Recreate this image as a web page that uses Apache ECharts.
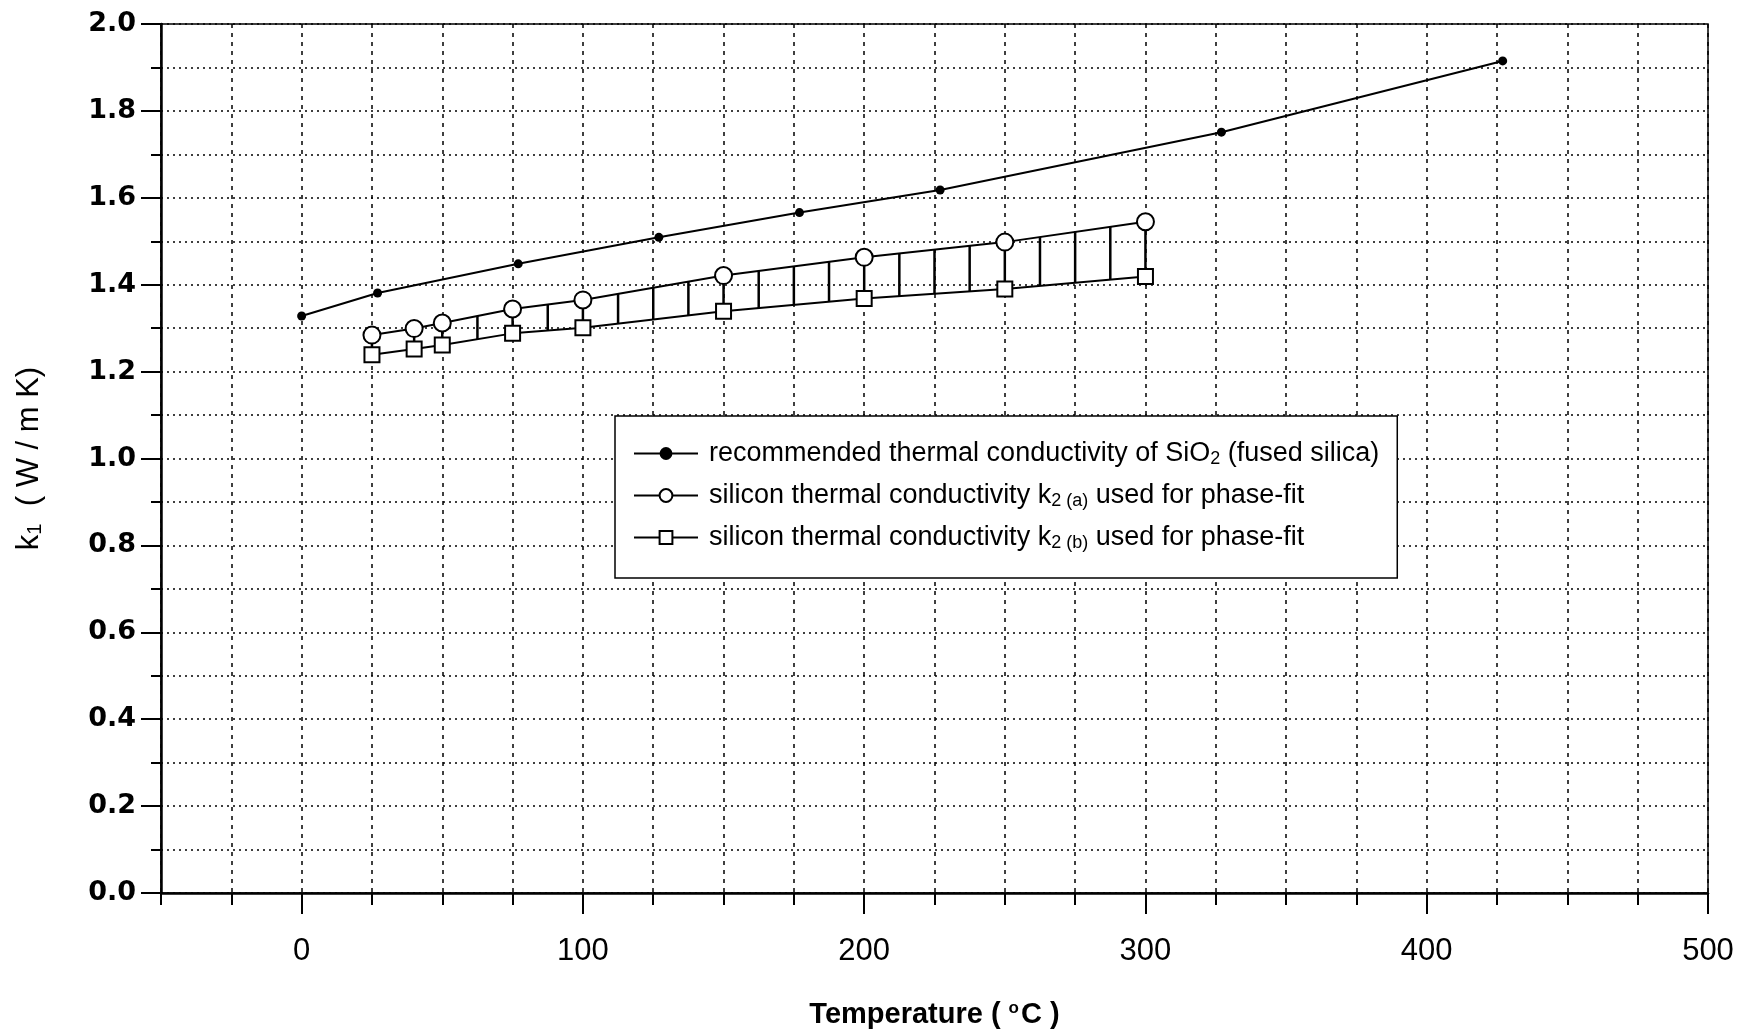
<!DOCTYPE html>
<html>
<head>
<meta charset="utf-8">
<script src="https://cdn.jsdelivr.net/npm/echarts@6/dist/echarts.min.js"></script>
<style>
html,body{margin:0;padding:0;background:#fff;}
#chart{width:1743px;height:1034px;}
</style>
</head>
<body>
<div id="chart"></div>
<script>
// ---- data ----
const sio2T = [0, 27, 77, 127, 177, 227, 327, 427];
const sio2K = [1.328, 1.381, 1.448, 1.509, 1.566, 1.618, 1.751, 1.915];
const siT = [25, 40, 50, 75, 100, 150, 200, 250, 300];
const k2a = [1.284, 1.299, 1.312, 1.344, 1.365, 1.421, 1.463, 1.498, 1.545];
const k2b = [1.239, 1.252, 1.261, 1.288, 1.301, 1.339, 1.368, 1.390, 1.419];
// positions of the vertical hatch strokes between k2(a) and k2(b)
const hatchT = [25, 40, 50, 62.5, 75, 87.5, 100, 112.5, 125, 137.5, 150, 162.5, 175, 187.5, 200, 212.5, 225, 237.5, 250, 262.5, 275, 287.5, 300];
const xLongTicks = [0, 100, 200, 300, 400, 500];
const seriesNames = [
  'recommended thermal conductivity of SiO2 (fused silica)',
  'silicon thermal conductivity k2 (a) used for phase-fit',
  'silicon thermal conductivity k2 (b) used for phase-fit'
];
const legendRich = {
  [seriesNames[0]]: '{n|recommended thermal conductivity of SiO}{s|2}{n| (fused silica)}',
  [seriesNames[1]]: '{n|silicon thermal conductivity k}{s|2 (a)}{n| used for phase-fit}',
  [seriesNames[2]]: '{n|silicon thermal conductivity k}{s|2 (b)}{n| used for phase-fit}'
};

function onLine(xs, ys, t) {
  for (let i = 0; i < xs.length - 1; i++) {
    if (t >= xs[i] && t <= xs[i + 1]) {
      const f = (t - xs[i]) / (xs[i + 1] - xs[i]);
      return ys[i] + f * (ys[i + 1] - ys[i]);
    }
  }
  return ys[ys.length - 1];
}

const FONT = "'Liberation Sans', Arial, sans-serif";
const chart = echarts.init(document.getElementById('chart'), null, {renderer: 'canvas'});
const option = {
  backgroundColor: '#fff',
  animation: false,
  grid: {left: 161, right: 35, top: 24, bottom: 140, show: true, borderColor: '#000', borderWidth: 1.5, backgroundColor: 'transparent'},
  legend: {
    data: seriesNames,
    orient: 'vertical',
    left: 615, top: 416,
    backgroundColor: '#fff',
    borderColor: '#000', borderWidth: 1.5, borderRadius: 0,
    padding: [24, 18, 26, 18],
    itemGap: 14,
    itemWidth: 64, itemHeight: 16,
    formatter: n => legendRich[n],
    textStyle: {
      color: '#000',
      padding: [0, 0, 0, 6],
      rich: {
        n: {fontFamily: FONT, fontSize: 27, color: '#000'},
        s: {fontFamily: FONT, fontSize: 18, color: '#000', verticalAlign: 'bottom', padding: [11, 0, 0, 0]}
      }
    }
  },
  xAxis: [{
    type: 'value', min: -50, max: 500, interval: 25,
    name: '{t|Temperature ( }{o|o}{t|C )}',
    nameLocation: 'middle', nameGap: 107,
    nameTextStyle: {rich: {
      t: {fontFamily: FONT, fontSize: 29, fontWeight: 'bold', color: '#000'},
      o: {fontFamily: FONT, fontSize: 17, fontWeight: 'bold', color: '#000', verticalAlign: 'top', padding: [0, 2, 12, 0]}
    }},
    axisLine: {show: true, onZero: false, lineStyle: {color: '#000', width: 2.5}},
    axisTick: {show: true, length: 12, lineStyle: {color: '#000', width: 2}},
    axisLabel: {margin: 43, fontFamily: FONT, fontSize: 31, color: '#000',
      formatter: v => (Math.round(v) % 100 === 0 && v >= 0) ? String(Math.round(v)) : ''},
    splitLine: {show: true, lineStyle: {color: '#000', width: 1.5, type: [4, 5]}}
  }, {
    type: 'value', min: -50, max: 500, position: 'bottom',
    axisLine: {show: false, onZero: false},
    axisTick: {show: true, customValues: xLongTicks, length: 21, lineStyle: {color: '#000', width: 2}},
    axisLabel: {show: false},
    splitLine: {show: false}
  }],
  yAxis: {
    type: 'value', min: 0, max: 2, interval: 0.2,
    name: '{k|k}{s|1}{k|  ( W / m K)}',
    nameLocation: 'middle', nameGap: 116,
    nameTextStyle: {rich: {
      k: {fontFamily: FONT, fontSize: 31, color: '#000'},
      s: {fontFamily: FONT, fontSize: 20, color: '#000', verticalAlign: 'bottom', padding: [10, 0, 0, 0]}
    }},
    axisLine: {show: true, onZero: false, lineStyle: {color: '#000', width: 2.5}},
    axisTick: {show: true, length: 20, lineStyle: {color: '#000', width: 2}},
    minorTick: {show: true, splitNumber: 2, length: 10, lineStyle: {color: '#000', width: 2}},
    axisLabel: {margin: 25, fontFamily: "'DejaVu Sans', sans-serif", fontWeight: 'bold', fontSize: 27, color: '#000',
      formatter: v => v.toFixed(1)},
    splitLine: {show: true, lineStyle: {color: '#000', width: 1.5, type: [2, 4]}},
    minorSplitLine: {show: true, lineStyle: {color: '#000', width: 1.5, type: [2, 4]}}
  },
  series: [
    {
      type: 'custom', z: 1, silent: true,
      data: hatchT.map(t => [t]),
      encode: {x: 0},
      renderItem: (params, api) => {
        const t = api.value(0);
        const p1 = api.coord([t, onLine(siT, k2a, t)]);
        const p2 = api.coord([t, onLine(siT, k2b, t)]);
        return {type: 'line', shape: {x1: p1[0], y1: p1[1], x2: p2[0], y2: p2[1]},
          style: {stroke: '#000', lineWidth: 2.5}};
      }
    },
    {
      name: seriesNames[0], type: 'line', z: 3,
      data: sio2T.map((t, i) => [t, sio2K[i]]),
      symbol: 'circle', symbolSize: 9,
      lineStyle: {color: '#000', width: 2},
      itemStyle: {color: '#000'}
    },
    {
      name: seriesNames[1], type: 'line', z: 3,
      data: siT.map((t, i) => [t, k2a[i]]),
      symbol: 'circle', symbolSize: 17,
      lineStyle: {color: '#000', width: 2},
      itemStyle: {color: '#fff', borderColor: '#000', borderWidth: 2}
    },
    {
      name: seriesNames[2], type: 'line', z: 3,
      data: siT.map((t, i) => [t, k2b[i]]),
      symbol: 'rect', symbolSize: 15,
      lineStyle: {color: '#000', width: 2},
      itemStyle: {color: '#fff', borderColor: '#000', borderWidth: 2}
    }
  ]
};
chart.setOption(option);
</script>
</body>
</html>
